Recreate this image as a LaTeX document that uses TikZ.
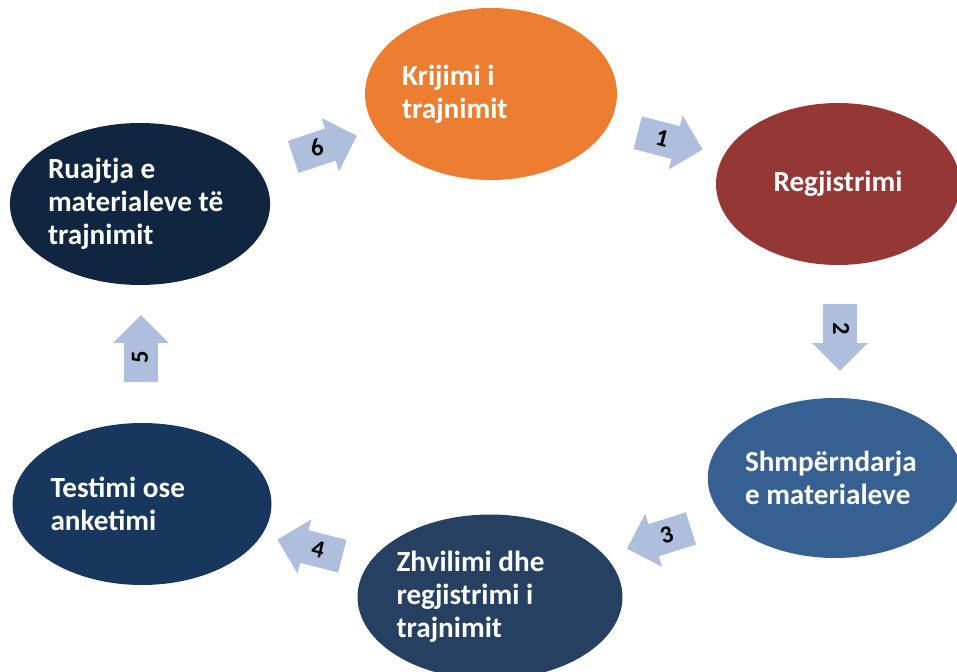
\documentclass[tikz,border=0pt]{standalone}
\usepackage{fontspec}
\setmainfont{Carlito}
\usetikzlibrary{shapes.geometric,shapes.arrows}
\definecolor{krOrange}{HTML}{ED7D31}
\definecolor{rgRed}{HTML}{953735}
\definecolor{shBlue}{HTML}{376092}
\definecolor{zhBlue}{HTML}{254061}
\definecolor{teBlue}{HTML}{17375E}
\definecolor{ruBlue}{HTML}{10253F}
\definecolor{arrBlue}{HTML}{ADBFDD}

\begin{document}
\begin{tikzpicture}[x=0.02cm,y=-0.02cm,
	stage/.style={ellipse, inner sep=0pt, text=white, align=flush left,
		font=\bfseries\fontsize{16.6}{18.8}\selectfont},
	blockarrow/.style={single arrow, fill=arrBlue, inner sep=0pt,
		text height=0.47cm, text depth=0.19cm,
		minimum height=1.34cm, single arrow head extend=0.22cm,
		font=\bfseries\fontsize{14}{16}\selectfont}]
	%% page frame
	\useasboundingbox (0,0) rectangle (957,672);

	% the six stages
	\node[stage, fill=krOrange, text width=3.56cm, minimum width=5.04cm, minimum height=3.44cm] (krijimi) at (491,94) {Krijimi i\\trajnimit};
	\node[stage, fill=rgRed, align=flush center, text width=3.44cm, minimum width=4.88cm, minimum height=3.24cm] (regjistrimi) at (838,184) {Regjistrimi};
	\node[stage, fill=shBlue, text width=3.6cm, minimum width=5.08cm, minimum height=3.2cm] (shperndarja) at (835,478) {Shmpërndarja\\e materialeve};
	\node[stage, fill=zhBlue, text width=3.74cm, minimum width=5.3cm, minimum height=3.3cm] (zhvilimi) at (490,597) {Zhvilimi dhe\\regjistrimi i\\trajnimit};
	\node[stage, fill=teBlue, text width=3.66cm, minimum width=5.18cm, minimum height=3.24cm] (testimi) at (142,504) {Testimi ose\\anketimi};
	\node[stage, fill=ruBlue, text width=3.68cm, minimum width=5.2cm, minimum height=3.24cm] (ruajtja) at (140,204) {Ruajtja e\\materialeve të\\trajnimit};

	% numbered arrows between them
	\node[blockarrow, rotate=-14.5] (a1) at (662,139) {1};
	\node[blockarrow, rotate=-90] (a2) at (840,329) {2};
	\node[blockarrow, rotate=17.6, shape border rotate=180] (a3) at (667,536) {3};
	\node[blockarrow, rotate=-14.3, shape border rotate=180] (a4) at (318,550) {4};
	\node[blockarrow, rotate=90] (a5) at (141,357) {5};
	\node[blockarrow, rotate=18.4] (a6) at (317,149) {6};
\end{tikzpicture}
\end{document}
